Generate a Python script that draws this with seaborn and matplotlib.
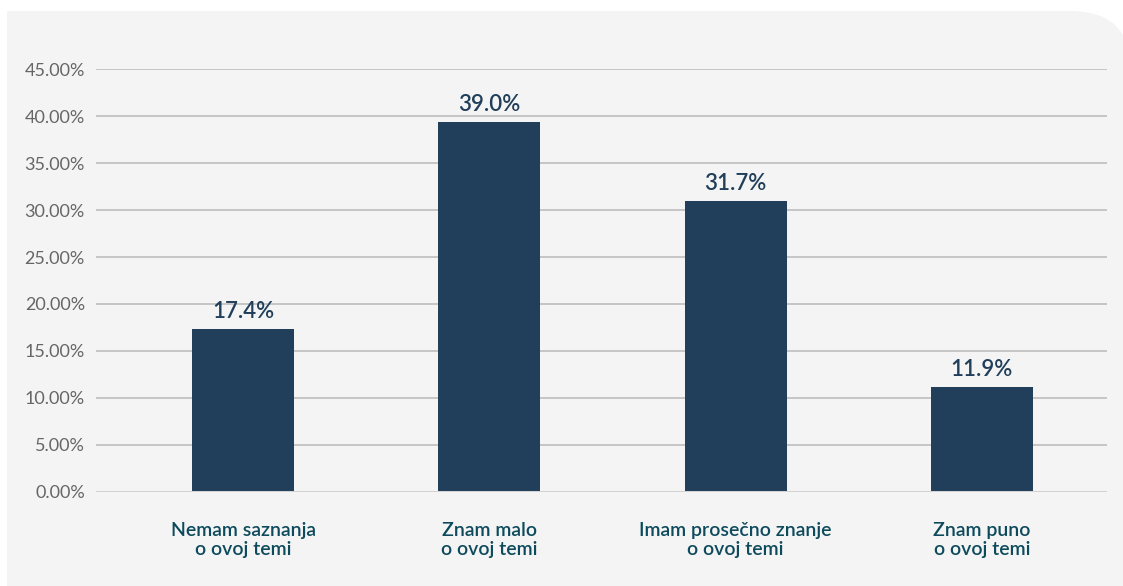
import matplotlib
matplotlib.use("Agg")
import matplotlib.pyplot as plt
import matplotlib.transforms as mtransforms
from matplotlib.patches import FancyBboxPatch, Rectangle
import seaborn as sns
import pandas as pd

categories = ["Nemam saznanja\no ovoj temi", "Znam malo\no ovoj temi",
              "Imam prosečno znanje\no ovoj temi", "Znam puno\no ovoj temi"]
bar_values = [17.35, 39.35, 31.0, 11.2]
value_labels = ["17.4%", "39.0%", "31.7%", "11.9%"]
y_ticks = [0, 5, 10, 15, 20, 25, 30, 35, 40, 45]
y_tick_labels = ["0.00%", "5.00%", "10.00%", "15.00%", "20.00%", "25.00%",
                 "30.00%", "35.00%", "40.00%", "45.00%"]

df = pd.DataFrame({"cat": categories, "val": bar_values})

sns.set_theme(style="white")
plt.rcParams["font.family"] = ["Lato", "DejaVu Sans"]

W, H = 1123, 586
fig = plt.figure(figsize=(W / 100, H / 100), dpi=100)
fig.patch.set_facecolor("white")

panel = "#f4f4f4"
ident = mtransforms.IdentityTransform()
fig.patches.append(Rectangle((7, -10), 1070, H - 11 + 10, transform=ident,
                             facecolor=panel, edgecolor="none", zorder=-5))
fig.patches.append(FancyBboxPatch((1000, -100), 1132 - 1000, H - 11 + 100,
                                  boxstyle="round,pad=0,rounding_size=62",
                                  transform=ident, facecolor=panel,
                                  edgecolor="none", zorder=-5))

ax = fig.add_axes([96 / W, (H - 491.7) / H, (1107 - 96) / W, (491.7 - 69.3) / H])
ax.set_facecolor("none")
ax.set_zorder(2)

sns.barplot(data=df, x="cat", y="val", color="#213f5a", saturation=1,
            width=0.414, linewidth=0, ax=ax, zorder=3)

ax.set_xlim(-0.597, 3.508)
ax.set_ylim(0, 45)
ax.set_yticks(y_ticks)
ax.set_yticklabels(y_tick_labels, fontsize=13, color="#666666")
ax.tick_params(axis="y", length=0, pad=8)
ax.tick_params(axis="x", length=0, pad=22)
for t in ax.get_xticklabels():
    t.set_fontsize(14)
    t.set_fontweight("semibold")
    t.set_color("#0c4a5c")
    t.set_linespacing(1.1)
ax.set_xlabel("")
ax.set_ylabel("")

for y in y_ticks[1:]:
    ax.axhline(y, color="#c2c2c2", lw=1.3, zorder=1)
ax.axhline(0, color="#d2d2d2", lw=2.2, zorder=4)

for s in ax.spines.values():
    s.set_visible(False)

for i, (v, lab) in enumerate(zip(bar_values, value_labels)):
    ax.annotate(lab, (i, v), xytext=(0, 5), textcoords="offset points",
                ha="center", va="bottom", fontsize=16, fontweight="semibold",
                color="#213f5a", annotation_clip=False)

fig.savefig("out.png", dpi=100, facecolor=fig.get_facecolor())
